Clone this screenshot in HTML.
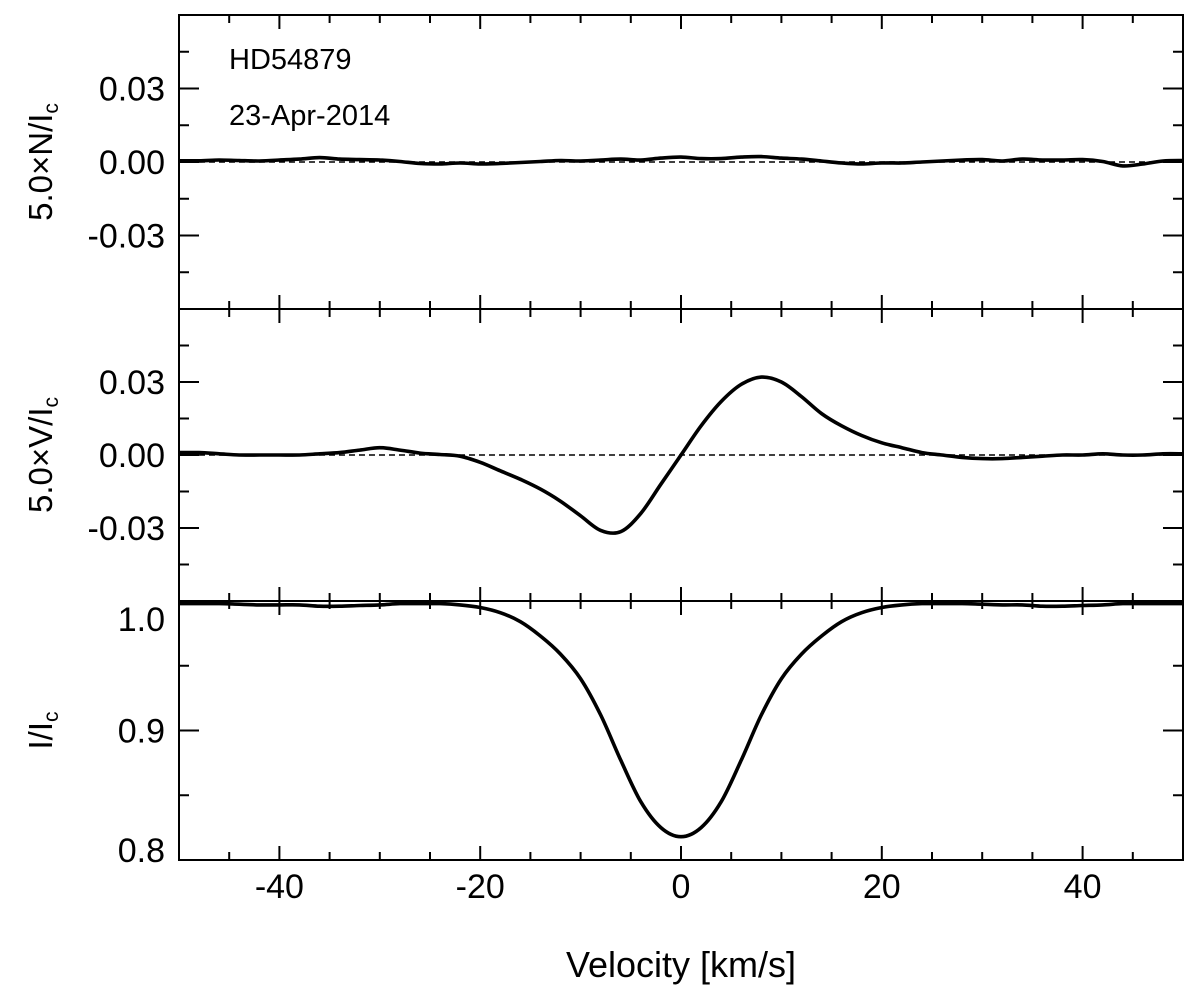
<!DOCTYPE html>
<html><head><meta charset="utf-8"><style>
html,body{margin:0;padding:0;background:#fff;}
svg{display:block;font-family:"Liberation Sans",sans-serif;}
</style></head><body>
<svg id="chart" width="1200" height="994" viewBox="0 0 1200 994"></svg>
<script>
const velocities = [-50,-48,-46,-44,-42,-40,-38,-36,-34,-32,-30,-28,-26,-24,-22,-20,-18,-16,-14,-12,-10,-8,-6,-4,-2,0,2,4,6,8,10,12,14,16,18,20,22,24,26,28,30,32,34,36,38,40,42,44,46,48,50];
const nValues = [0.0005,0.0005,0.0008,0.0006,0.0004,0.0008,0.0012,0.0018,0.0012,0.001,0.0008,0.0002,-0.0006,-0.0008,-0.0004,-0.0008,-0.0006,-0.0002,0.0002,0.0006,0.0004,0.0008,0.0012,0.0008,0.0016,0.002,0.0014,0.0014,0.002,0.0022,0.0016,0.0012,0.0004,-0.0004,-0.0008,-0.0004,-0.0004,0,0.0004,0.0008,0.001,0.0004,0.0012,0.0008,0.0008,0.001,0.0002,-0.0016,-0.0008,0.0004,0.0006];
const vValues = [0.001,0.001,0.0005,0,0,0,0,0.0005,0.001,0.002,0.003,0.002,0.0008,0.0002,-0.0005,-0.003,-0.0065,-0.010,-0.014,-0.019,-0.025,-0.031,-0.0315,-0.024,-0.012,0,0.012,0.022,0.029,0.032,0.030,0.024,0.017,0.012,0.008,0.005,0.003,0.001,0,-0.001,-0.0015,-0.0015,-0.001,-0.0005,0,0,0.0005,0,0,0.0005,0.0005];
const iValues = [0.998,0.998,0.998,0.9975,0.997,0.997,0.997,0.996,0.996,0.9965,0.997,0.998,0.998,0.998,0.997,0.995,0.991,0.984,0.973,0.959,0.940,0.912,0.877,0.845,0.825,0.818,0.825,0.845,0.877,0.912,0.940,0.959,0.973,0.984,0.991,0.995,0.997,0.998,0.998,0.998,0.9975,0.997,0.997,0.996,0.996,0.9965,0.997,0.998,0.998,0.998,0.998];
const xTicks = [-40,-20,0,20,40];
const stokesTicks = [0.03,0.00,-0.03];
const stokesTickLabels = ["0.03","0.00","-0.03"];
const iTicks = [1.0,0.9,0.8];
const iTickLabels = ["1.0","0.9","0.8"];

const NS="http://www.w3.org/2000/svg";
const svg=document.getElementById('chart');
const X0=179,X1=1183;
const xs=v=>X0+(v+50)/100*(X1-X0);
function el(tag,attrs,parent){const e=document.createElementNS(NS,tag);for(const k in attrs)e.setAttribute(k,attrs[k]);(parent||svg).appendChild(e);return e;}
const panels=[
 {name:'n',top:15,bot:309,min:-0.06,max:0.06,vals:nValues,ticks:stokesTicks,labels:stokesTickLabels,minor:0.015,zero:true,ylab:'5.0×N/I',lo:[0,0,0]},
 {name:'v',top:309,bot:601,min:-0.06,max:0.06,vals:vValues,ticks:stokesTicks,labels:stokesTickLabels,minor:0.015,zero:true,ylab:'5.0×V/I',lo:[0,0,0]},
 {name:'i',top:601,bot:860,min:0.8,max:1.0,vals:iValues,ticks:iTicks,labels:iTickLabels,minor:0.05,zero:false,ylab:'I/I',lo:[18,0,-10]}
];
function smoothPath(pts){let d='M'+pts[0][0].toFixed(1)+','+pts[0][1].toFixed(1);
 for(let i=0;i<pts.length-1;i++){const p0=pts[i-1]||pts[i],p1=pts[i],p2=pts[i+1],p3=pts[i+2]||p2;
  const c1=[p1[0]+(p2[0]-p0[0])/6,p1[1]+(p2[1]-p0[1])/6],c2=[p2[0]-(p3[0]-p1[0])/6,p2[1]-(p3[1]-p1[1])/6];
  d+=' C'+c1[0].toFixed(1)+','+c1[1].toFixed(1)+' '+c2[0].toFixed(1)+','+c2[1].toFixed(1)+' '+p2[0].toFixed(1)+','+p2[1].toFixed(1);}
 return d;}
panels.forEach(p=>{
 const ys=v=>p.bot-(v-p.min)/(p.max-p.min)*(p.bot-p.top);
 const g=el('g',{});
 
 
 for(let v=-50;v<=50;v+=5){const x=xs(v),maj=v%20===0;const L=maj?14:8;
  const t1=el('line',{x1:x,x2:x,y1:p.bot,y2:p.bot-L,stroke:'#000','stroke-width':2},g);
  
  
  el('line',{x1:x,x2:x,y1:p.top,y2:p.top+L,stroke:'#000','stroke-width':2},g);}
 const nMin=Math.round((p.max-p.min)/p.minor);
 for(let k=0;k<=nMin;k++){const v=p.min+k*p.minor;const maj=p.ticks.some(t=>Math.abs(t-v)<1e-6);const y=ys(v);const L=maj?20:10;
  el('line',{x1:X0,x2:X0+L,y1:y,y2:y,stroke:'#000','stroke-width':2},g);
  el('line',{x1:X1,x2:X1-L,y1:y,y2:y,stroke:'#000','stroke-width':2},g);}
 p.ticks.forEach((t,i)=>{const tx=el('text',{x:165,y:ys(t)+12+p.lo[i],'text-anchor':'end','font-size':34},g);tx.textContent=p.labels[i];
  
  });
 if(p.zero){const z=el('line',{x1:X0,x2:X1,y1:ys(0),y2:ys(0),stroke:'#000','stroke-width':1.5,'stroke-dasharray':'6,4'},g);
  
  }
 const pts=velocities.map((v,i)=>[xs(v),ys(p.vals[i])]);
 const path=el('path',{d:smoothPath(pts),fill:'none',stroke:'#000','stroke-width':3.6},g);
 
 
 const fr=el('rect',{x:X0,y:p.top,width:X1-X0,height:p.bot-p.top,fill:'none',stroke:'#000','stroke-width':2},g);
 
 
 const cy=(p.top+p.bot)/2;
 const yl=el('text',{x:0,y:0,'font-size':33,transform:`translate(52 ${cy}) rotate(-90)`,'text-anchor':'middle'},g);
 yl.textContent=p.ylab;
 const sb=el('tspan',{'font-size':21,dy:6},yl);sb.textContent='c';
 
 
});
xTicks.forEach(t=>{const tx=el('text',{x:xs(t),y:898,'text-anchor':'middle','font-size':34});tx.textContent=String(t);
 
 });
const xl=el('text',{x:681,y:977,'text-anchor':'middle','font-size':36});xl.textContent='Velocity [km/s]';


const s1=el('text',{x:229,y:69,'font-size':29});s1.textContent='HD54879';


const s2=el('text',{x:229,y:125,'font-size':29});s2.textContent='23-Apr-2014';


</script>
</body></html>
